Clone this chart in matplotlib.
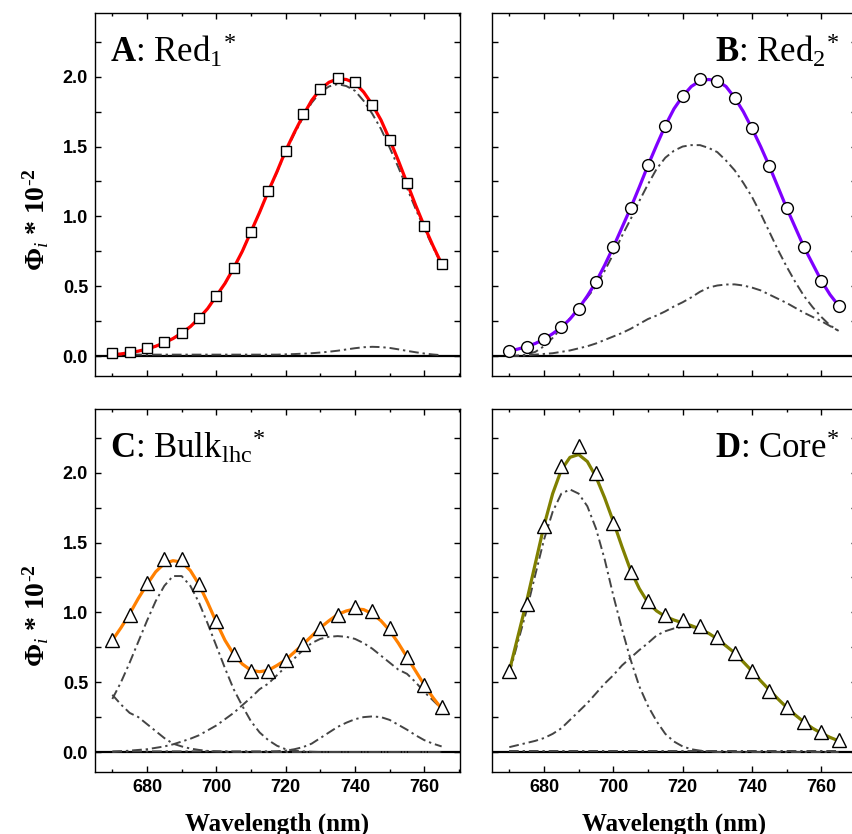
import matplotlib
matplotlib.use("Agg")
import matplotlib.pyplot as plt
from matplotlib.ticker import MultipleLocator, FormatStrFormatter

plt.rcParams['mathtext.fontset'] = 'custom'
plt.rcParams['mathtext.rm'] = 'Liberation Serif'
plt.rcParams['mathtext.it'] = 'Liberation Serif:italic'
plt.rcParams['mathtext.bf'] = 'Liberation Serif:bold'

# measured points every 5 nm
wl_pts = [670, 675, 680, 685, 690, 695, 700, 705, 710, 715,
          720, 725, 730, 735, 740, 745, 750, 755, 760, 765]
# fitted curves every 2.5 nm
wl_fit = [670, 672.5, 675, 677.5, 680, 682.5, 685, 687.5, 690, 692.5,
          695, 697.5, 700, 702.5, 705, 707.5, 710, 712.5, 715, 717.5,
          720, 722.5, 725, 727.5, 730, 732.5, 735, 737.5, 740, 742.5,
          745, 747.5, 750, 752.5, 755, 757.5, 760, 762.5, 765]

# A: Red1*
red1_pts = [0.02, 0.03, 0.055, 0.098, 0.167, 0.27, 0.43, 0.63, 0.89, 1.18,
            1.47, 1.73, 1.91, 1.99, 1.96, 1.80, 1.55, 1.24, 0.93, 0.66]
red1_fit = [0.01, 0.015, 0.025, 0.035, 0.05, 0.07, 0.095, 0.125, 0.165, 0.21,
            0.27, 0.34, 0.43, 0.52, 0.63, 0.75, 0.89, 1.03, 1.18, 1.32,
            1.47, 1.60, 1.72, 1.83, 1.91, 1.96, 1.985, 1.98, 1.955, 1.89,
            1.80, 1.69, 1.55, 1.40, 1.24, 1.08, 0.93, 0.79, 0.66]
red1_c1 = [0.01, 0.015, 0.025, 0.035, 0.05, 0.07, 0.095, 0.125, 0.165, 0.21,
           0.27, 0.34, 0.43, 0.52, 0.63, 0.75, 0.89, 1.03, 1.177, 1.315,
           1.463, 1.59, 1.707, 1.813, 1.888, 1.93, 1.947, 1.933, 1.899, 1.827,
           1.734, 1.626, 1.492, 1.352, 1.203, 1.053, 0.912, 0.779, 0.654]
red1_c2 = [0.01, 0.01, 0.01, 0.01, 0.01, 0.01, 0.01, 0.01, 0.01, 0.01,
           0.01, 0.01, 0.01, 0.01, 0.01, 0.01, 0.01, 0.01, 0.01, 0.01,
           0.012, 0.014, 0.017, 0.02, 0.025, 0.031, 0.038, 0.047, 0.056, 0.063,
           0.066, 0.064, 0.058, 0.048, 0.037, 0.027, 0.018, 0.011, 0.006]

# B: Red2*
red2_pts = [0.036, 0.067, 0.12, 0.205, 0.34, 0.53, 0.78, 1.06, 1.365, 1.65,
            1.86, 1.98, 1.97, 1.85, 1.63, 1.36, 1.06, 0.78, 0.54, 0.36]
red2_fit = [0.035, 0.05, 0.067, 0.09, 0.12, 0.16, 0.205, 0.265, 0.34, 0.43,
            0.53, 0.65, 0.78, 0.92, 1.06, 1.21, 1.365, 1.51, 1.65, 1.77,
            1.86, 1.93, 1.97, 1.98, 1.97, 1.93, 1.85, 1.75, 1.63, 1.50,
            1.36, 1.21, 1.06, 0.92, 0.78, 0.66, 0.54, 0.44, 0.36]
red2_c1 = [0.0, 0.003, 0.01, 0.03, 0.07, 0.13, 0.20, 0.27, 0.34, 0.42,
           0.50, 0.61, 0.73, 0.86, 0.98, 1.11, 1.23, 1.34, 1.42, 1.47,
           1.50, 1.51, 1.51, 1.49, 1.46, 1.40, 1.33, 1.24, 1.14, 1.02,
           0.89, 0.76, 0.64, 0.53, 0.43, 0.35, 0.28, 0.22, 0.18]
red2_c2 = [0.0, 0.002, 0.005, 0.01, 0.015, 0.02, 0.03, 0.04, 0.055, 0.07,
           0.09, 0.115, 0.14, 0.165, 0.195, 0.23, 0.265, 0.29, 0.32, 0.355,
           0.385, 0.42, 0.46, 0.49, 0.505, 0.512, 0.513, 0.505, 0.49, 0.47,
           0.44, 0.41, 0.38, 0.345, 0.31, 0.28, 0.25, 0.215, 0.18]

# C: Bulk_lhc*
bulk_pts = [0.80, 0.98, 1.21, 1.38, 1.385, 1.20, 0.935, 0.70, 0.58, 0.58,
            0.66, 0.77, 0.89, 0.98, 1.04, 1.01, 0.885, 0.68, 0.48, 0.32]
bulk_fit = [0.80, 0.89, 0.99, 1.10, 1.20, 1.29, 1.35, 1.37, 1.36, 1.30,
            1.20, 1.07, 0.93, 0.80, 0.70, 0.63, 0.585, 0.575, 0.585, 0.62,
            0.66, 0.715, 0.77, 0.83, 0.89, 0.94, 0.985, 1.01, 1.025, 1.02,
            0.99, 0.94, 0.87, 0.78, 0.68, 0.58, 0.48, 0.39, 0.31]
bulk_c1 = [0.41, 0.34, 0.28, 0.25, 0.20, 0.15, 0.10, 0.06, 0.04, 0.025,
           0.015, 0.008, 0.004, 0.002, 0.0, 0.0, 0.0, 0.0, 0.0, 0.0,
           0.0, 0.0, 0.0, 0.0, 0.0, 0.0, 0.0, 0.0, 0.0, 0.0,
           0.0, 0.0, 0.0, 0.0, 0.0, 0.0, 0.0, 0.0, 0.0]
bulk_c2 = [0.38, 0.50, 0.64, 0.79, 0.94, 1.08, 1.19, 1.26, 1.26, 1.19,
           1.07, 0.92, 0.76, 0.60, 0.45, 0.33, 0.22, 0.14, 0.085, 0.045,
           0.02, 0.01, 0.005, 0.002, 0.0, 0.0, 0.0, 0.0, 0.0, 0.0,
           0.0, 0.0, 0.0, 0.0, 0.0, 0.0, 0.0, 0.0, 0.0]
bulk_c3 = [0.0, 0.005, 0.01, 0.015, 0.02, 0.03, 0.04, 0.055, 0.075, 0.095,
           0.12, 0.155, 0.19, 0.235, 0.28, 0.335, 0.39, 0.45, 0.49, 0.55,
           0.61, 0.67, 0.73, 0.78, 0.81, 0.825, 0.83, 0.825, 0.81, 0.78,
           0.74, 0.69, 0.64, 0.59, 0.56, 0.50, 0.43, 0.37, 0.31]
bulk_c4 = [0.005, 0.005, 0.005, 0.005, 0.005, 0.005, 0.005, 0.005, 0.005, 0.005,
           0.005, 0.005, 0.005, 0.005, 0.005, 0.005, 0.005, 0.005, 0.005, 0.006,
           0.01, 0.02, 0.035, 0.06, 0.10, 0.14, 0.18, 0.21, 0.235, 0.25,
           0.255, 0.25, 0.23, 0.195, 0.16, 0.12, 0.085, 0.06, 0.04]

# D: Core*
core_pts = [0.58, 1.06, 1.615, 2.05, 2.19, 2.00, 1.64, 1.29, 1.08, 0.98,
            0.945, 0.90, 0.82, 0.71, 0.58, 0.44, 0.32, 0.215, 0.14, 0.086]
core_fit = [0.58, 0.83, 1.08, 1.35, 1.62, 1.85, 2.02, 2.11, 2.13, 2.08,
            1.97, 1.82, 1.65, 1.47, 1.30, 1.17, 1.07, 1.01, 0.97, 0.945,
            0.925, 0.905, 0.88, 0.85, 0.81, 0.76, 0.71, 0.645, 0.58, 0.51,
            0.445, 0.38, 0.32, 0.265, 0.215, 0.17, 0.135, 0.105, 0.08]
core_c1 = [0.56, 0.79, 1.015, 1.27, 1.52, 1.72, 1.85, 1.88, 1.85, 1.76,
           1.60, 1.38, 1.12, 0.88, 0.66, 0.47, 0.33, 0.22, 0.13, 0.075,
           0.04, 0.02, 0.01, 0.005, 0.0, 0.0, 0.0, 0.0, 0.0, 0.0,
           0.0, 0.0, 0.0, 0.0, 0.0, 0.0, 0.0, 0.0, 0.0]
core_c2 = [0.035, 0.05, 0.065, 0.08, 0.10, 0.13, 0.17, 0.23, 0.29, 0.35,
           0.42, 0.49, 0.55, 0.62, 0.675, 0.73, 0.78, 0.835, 0.865, 0.885,
           0.895, 0.895, 0.88, 0.85, 0.81, 0.76, 0.71, 0.645, 0.58, 0.51,
           0.445, 0.38, 0.32, 0.265, 0.215, 0.17, 0.135, 0.105, 0.08]
core_c3 = [0.005, 0.005, 0.005, 0.005, 0.005, 0.005, 0.005, 0.005, 0.005, 0.005,
           0.005, 0.005, 0.005, 0.005, 0.005, 0.005, 0.005, 0.005, 0.005, 0.005,
           0.005, 0.005, 0.005, 0.005, 0.005, 0.005, 0.005, 0.005, 0.005, 0.005,
           0.005, 0.005, 0.005, 0.005, 0.005, 0.005, 0.005, 0.005, 0.005]

panels = [
    dict(pts=red1_pts, fit=red1_fit, comps=[red1_c1, red1_c2], color='#ff0000',
         marker='s', ms=7.5, title=r'$\mathbf{A}$: Red$_{1}{}^{*}$', left=True),
    dict(pts=red2_pts, fit=red2_fit, comps=[red2_c1, red2_c2], color='#7f00ff',
         marker='o', ms=8.5, title=r'$\mathbf{B}$: Red$_{2}{}^{*}$', left=False),
    dict(pts=bulk_pts, fit=bulk_fit, comps=[bulk_c1, bulk_c2, bulk_c3, bulk_c4],
         color='#ff8000', marker='^', ms=9.5,
         title=r'$\mathbf{C}$: Bulk$_{\mathrm{lhc}}{}^{*}$', left=True),
    dict(pts=core_pts, fit=core_fit, comps=[core_c1, core_c2, core_c3], color='#808000',
         marker='^', ms=9.5, title=r'$\mathbf{D}$: Core$^{*}$', left=False),
]

W, H = 852, 834
fig = plt.figure(figsize=(W / 100, H / 100), dpi=100)

# axes boxes in pixels: left, top, right, bottom
boxes = [(95, 13, 460, 376), (492, 13, 857, 376),
         (95, 409, 460, 772), (492, 409, 857, 772)]

comp_style = dict(color='#444444', lw=1.4, linestyle=(0, (5, 2, 1.2, 2)))
tick_font = dict(family='Liberation Sans', weight='bold', size=13)

for i, (p, (l, t, r, b)) in enumerate(zip(panels, boxes)):
    ax = fig.add_axes([l / W, 1 - b / H, (r - l) / W, (b - t) / H])
    ax.axhline(0, color='black', lw=1.6, zorder=1)
    for c in p['comps']:
        ax.plot(wl_fit, c, zorder=2, **comp_style)
    ax.plot(wl_fit, p['fit'], color=p['color'], lw=2.3, zorder=3)
    ax.plot(wl_pts, p['pts'], linestyle='none', marker=p['marker'], ms=p['ms'],
            mfc='white', mec='black', mew=1.0, zorder=4)

    ax.set_xlim(665, 770.3)
    ax.set_ylim(-0.143, 2.456)
    ax.xaxis.set_major_locator(MultipleLocator(20))
    ax.xaxis.set_minor_locator(MultipleLocator(10))
    ax.yaxis.set_major_locator(MultipleLocator(0.5))
    ax.yaxis.set_minor_locator(MultipleLocator(0.25))
    ax.yaxis.set_major_formatter(FormatStrFormatter('%.1f'))
    ax.tick_params(which='both', direction='in', top=True, right=True, width=1.0)
    ax.tick_params(which='major', length=4.5, pad=5)
    ax.tick_params(axis='x', which='minor', length=2.5)
    ax.tick_params(axis='y', which='minor', length=4.5)
    for s in ax.spines.values():
        s.set_linewidth(1.0)

    if i < 2:
        ax.tick_params(axis='x', labelbottom=False)
    else:
        ax.set_xlabel('Wavelength (nm)', family='Liberation Serif', weight='bold',
                      size=18, va='top')
        ax.xaxis.set_label_coords(0.5, -0.113)
    if p['left']:
        ax.set_ylabel(r'$\mathbf{\Phi}_{\mathit{i}}$ * 10$^{\mathbf{\text{-}2}}$',
                      family='Liberation Serif', weight='bold', size=20, va='center')
        ax.yaxis.set_label_coords(-0.162, 0.43)
    else:
        ax.tick_params(axis='y', labelleft=False)
    for lab in ax.get_xticklabels() + ax.get_yticklabels():
        lab.set_fontproperties(tick_font)
        lab.set_fontsize(13)

    if p['left']:
        ax.text(0.041, 0.866, p['title'], transform=ax.transAxes, ha='left',
                va='baseline', family='Liberation Serif', size=25)
    else:
        ax.text(0.952, 0.866, p['title'], transform=ax.transAxes, ha='right',
                va='baseline', family='Liberation Serif', size=25)

fig.savefig('out.png', dpi=100)
